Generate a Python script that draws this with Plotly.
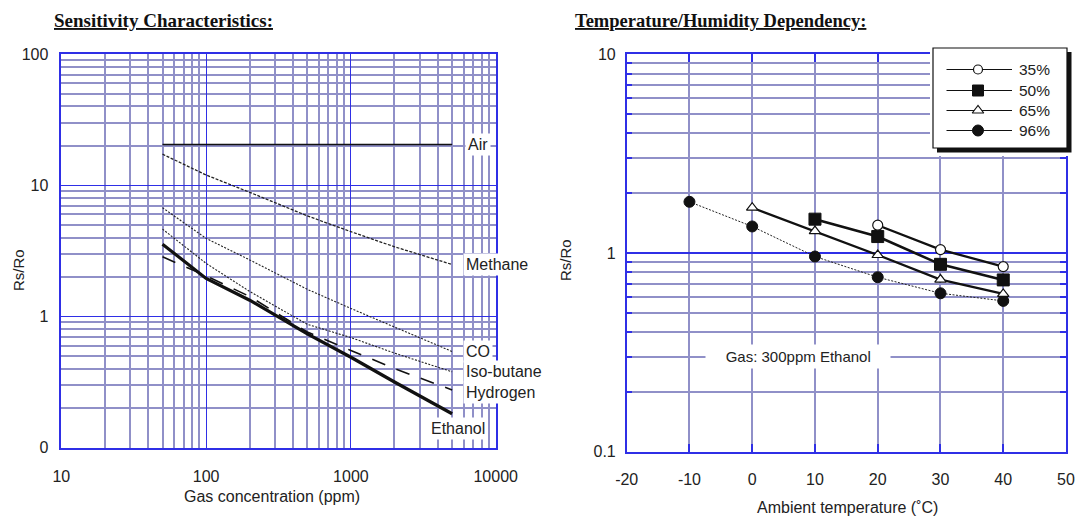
import math
import plotly.graph_objects as go

W, H = 1082, 520

# ---------------- Left chart data: Sensitivity Characteristics ----------------
conc = [50, 100, 200, 500, 1000, 2000, 5000]
air_conc = [50, 5000]
air = [20.5, 20.5]
methane = [17.3, 12.0, 8.85, 5.85, 4.43, 3.40, 2.49]
co = [6.75, 3.94, 2.70, 1.61, 1.15, 0.83, 0.54]
isobutane = [4.64, 2.54, 1.55, 0.87, 0.69, 0.525, 0.378]
hydrogen = [2.85, 2.04, 1.42, 0.76, 0.55, 0.40, 0.275]
ethanol = [3.56, 1.95, 1.33, 0.735, 0.488, 0.316, 0.181]

left_xticks = [10, 100, 1000, 10000]
left_xticktext = ["10", "100", "1000", "10000"]
left_yticks = [0.1, 1, 10, 100]
left_yticktext = ["0", "1", "10", "100"]

# ---------------- Right chart data: Temperature/Humidity Dependency ----------------
temps = [-10, 0, 10, 20, 30, 40]
rh35 = [None, None, None, 1.38, 1.04, 0.854]
rh50 = [None, None, 1.48, 1.21, 0.877, 0.732]
rh65 = [None, 1.69, 1.29, 0.977, 0.735, 0.622]
rh96 = [1.81, 1.36, 0.96, 0.755, 0.627, 0.574]
rh_labels = ["35%", "50%", "65%", "96%"]

right_xticks = [-20, -10, 0, 10, 20, 30, 40, 50]
right_xticktext = ["-20", "-10", "0", "10", "20", "30", "40", "50"]
right_yticks = [0.1, 1, 10]
right_yticktext = ["0.1", "1", "10"]

# ---------------- styling ----------------
BLUE = "#2f2fe6"
LAV = "#9090c8"
INK = "#111111"
SANS = "Liberation Sans, Arial, sans-serif"
SERIF = "Liberation Serif, Times New Roman, serif"
tick_font = dict(family=SANS, size=16, color="#222222")


def px_x(p):
    return p / W


def px_y(p):
    return 1 - p / H


def log_minor(d0, d1):
    return [k * 10 ** d for d in range(d0, d1) for k in range(2, 10)]


fig = go.Figure()

# Left chart traces
left_series = [
    ("Air", air_conc, air, dict(color=INK, width=1.5)),
    ("Methane", conc, methane, dict(color="#222", width=1.3, dash="3px,1.5px")),
    ("CO", conc, co, dict(color="#222", width=1.1, dash="2px,1.5px")),
    ("Iso-butane", conc, isobutane, dict(color="#222", width=1.1, dash="2px,1.5px")),
    ("Hydrogen", conc, hydrogen, dict(color=INK, width=1.6, dash="14px,12px")),
    ("Ethanol", conc, ethanol, dict(color=INK, width=3.2)),
]
for name, xs, ys, ln in left_series:
    fig.add_trace(go.Scatter(x=xs, y=ys, mode="lines", name=name, line=ln,
                             xaxis="x", yaxis="y", showlegend=False))

# Right chart traces
right_series = [
    ("96%", rh96, dict(color="#222", width=1, dash="2px,1.5px"),
     dict(symbol="circle", size=11, color=INK, line=dict(color=INK, width=1))),
    ("65%", rh65, dict(color=INK, width=2.3),
     dict(symbol="triangle-up", size=10, color="white", line=dict(color=INK, width=1.2))),
    ("50%", rh50, dict(color=INK, width=2.6),
     dict(symbol="square", size=12, color=INK, line=dict(color=INK, width=1))),
    ("35%", rh35, dict(color=INK, width=2.3),
     dict(symbol="circle", size=10, color="white", line=dict(color=INK, width=1.2))),
]
for name, ys, ln, mk in right_series:
    fig.add_trace(go.Scatter(x=temps, y=ys, mode="lines+markers", name=name, line=ln,
                             marker=mk, xaxis="x2", yaxis="y2", showlegend=False,
                             connectgaps=False))

# Manual legend (helper axes x3/y3 in pixel-like units)
legend_rows = {"35%": 69.5, "50%": 90.5, "65%": 110.5, "96%": 130.5}
legend_markers = {
    "35%": dict(symbol="circle", size=9, color="white", line=dict(color=INK, width=1.2)),
    "50%": dict(symbol="square", size=11, color=INK, line=dict(color=INK, width=1)),
    "65%": dict(symbol="triangle-up", size=10, color="white", line=dict(color=INK, width=1.2)),
    "96%": dict(symbol="circle", size=11, color=INK, line=dict(color=INK, width=1)),
}
for lab in rh_labels:
    yy = legend_rows[lab]
    fig.add_trace(go.Scatter(x=[946.5, 1012], y=[yy, yy], mode="lines",
                             line=dict(color=INK, width=1), xaxis="x3", yaxis="y3",
                             showlegend=False, hoverinfo="skip"))
    fig.add_trace(go.Scatter(x=[978], y=[yy], mode="markers", marker=legend_markers[lab],
                             xaxis="x3", yaxis="y3", showlegend=False, hoverinfo="skip"))

common_axis = dict(showline=True, linecolor=BLUE, linewidth=1.5, zeroline=False,
                   tickfont=tick_font, showgrid=True, automargin=False)

fig.update_layout(
    template="none",
    width=W, height=H,
    margin=dict(l=0, r=0, t=0, b=0, pad=0),
    paper_bgcolor="white", plot_bgcolor="white",
    showlegend=False,
    xaxis=dict(type="log", domain=[px_x(61.3), px_x(495.7)], range=[1, 4], anchor="y",
               tickmode="array", tickvals=left_xticks, ticktext=left_xticktext, ticks="",
               gridcolor=BLUE, gridwidth=1.3, mirror=True, ticklabelstandoff=14,
               minor=dict(tickvals=log_minor(1, 4), showgrid=True, gridcolor=LAV,
                          gridwidth=1.6, ticks=""),
               **common_axis),
    yaxis=dict(type="log", domain=[px_y(447.5), px_y(54.3)], range=[-1, 2], anchor="x",
               tickmode="array", tickvals=left_yticks, ticktext=left_yticktext, ticks="",
               gridcolor=BLUE, gridwidth=1.3, mirror=True, ticklabelstandoff=8,
               minor=dict(tickvals=log_minor(-1, 2), showgrid=True, gridcolor=LAV,
                          gridwidth=1.6, ticks=""),
               **common_axis),
    xaxis2=dict(domain=[px_x(626.7), px_x(1066)], range=[-20, 50], anchor="y2",
                tickmode="array", tickvals=right_xticks, ticktext=right_xticktext,
                gridcolor=LAV, gridwidth=1.8,
                ticks="inside", ticklen=8, tickcolor=BLUE, tickwidth=1.6,
                mirror="allticks", ticklabelstandoff=12,
                **common_axis),
    yaxis2=dict(type="log", domain=[px_y(451.7), px_y(54.3)], range=[-1, 1], anchor="x2",
                tickmode="array", tickvals=right_yticks, ticktext=right_yticktext,
                gridcolor=BLUE, gridwidth=1.5,
                ticks="inside", ticklen=6, tickcolor=BLUE, tickwidth=1.5,
                mirror="allticks", ticklabelstandoff=6,
                minor=dict(tickvals=log_minor(-1, 1), showgrid=True, gridcolor=LAV,
                           gridwidth=1.6, ticks="inside", ticklen=6, tickcolor=BLUE,
                           tickwidth=1.5),
                **common_axis),
    xaxis3=dict(domain=[px_x(930), px_x(1076)], range=[930, 1076], anchor="y3",
                visible=False, fixedrange=True, automargin=False),
    yaxis3=dict(domain=[px_y(156), px_y(44)], range=[156, 44], anchor="x3",
                visible=False, fixedrange=True, automargin=False),
)

# Legend box with drop shadow (drawn in helper subplot, under the legend samples)
fig.add_shape(type="rect", xref="x3", yref="y3", x0=937, x1=1071.5, y0=52, y1=152.5,
              fillcolor=INK, line=dict(width=0), layer="between")
fig.add_shape(type="rect", xref="x3", yref="y3", x0=933, x1=1067, y0=48, y1=148,
              fillcolor="white", line=dict(color=INK, width=1.2), layer="between")

ann = []
# Titles
ann.append(dict(text="<b><u>Sensitivity Characteristics:</u></b>", xref="paper", yref="paper",
                x=px_x(52), y=px_y(21), xanchor="left", yanchor="middle", showarrow=False,
                font=dict(family=SERIF, size=19, color=INK)))
ann.append(dict(text="<b><u>Temperature/Humidity Dependency:</u></b>", xref="paper", yref="paper",
                x=px_x(573), y=px_y(21), xanchor="left", yanchor="middle", showarrow=False,
                font=dict(family=SERIF, size=18.5, color=INK)))
# Axis titles
axis_font = dict(family=SANS, size=16, color="#222222")
ann.append(dict(text="Gas concentration (ppm)", xref="paper", yref="paper",
                x=px_x(272), y=px_y(496), xanchor="center", yanchor="middle",
                showarrow=False, font=axis_font))
ann.append(dict(text="Rs/Ro", xref="paper", yref="paper", textangle=-90,
                x=px_x(18), y=px_y(270), xanchor="center", yanchor="middle",
                showarrow=False, font=dict(family=SANS, size=15, color="#222222")))
ann.append(dict(text="Ambient temperature (˚C)", xref="paper", yref="paper",
                x=px_x(847), y=px_y(507), xanchor="center", yanchor="middle",
                showarrow=False, font=axis_font))
ann.append(dict(text="Rs/Ro", xref="paper", yref="paper", textangle=-90,
                x=px_x(565), y=px_y(260), xanchor="center", yanchor="middle",
                showarrow=False, font=dict(family=SANS, size=15, color="#222222")))

# Curve labels (left chart), positions in log10 units of the data axes
label_font = dict(family=SANS, size=16, color="#222222")
curve_labels = [
    ("Air", 3.79, air[-1], 0),
    ("Methane", 3.775, methane[-1], 0),
    ("CO", 3.775, co[-1], 0),
    ("Iso-butane", 3.775, isobutane[-1], 0),
    ("Hydrogen", 3.775, hydrogen[-1], -3),
    ("Ethanol", 3.53, ethanol[-1], -15),
]
for text, lx, val, ys in curve_labels:
    ann.append(dict(text=text, xref="x", yref="y", x=lx, y=math.log10(val), yshift=ys,
                    xanchor="left", yanchor="middle", showarrow=False,
                    bgcolor="white", borderpad=2, font=label_font))

# Right chart note
ann.append(dict(text="    Gas: 300ppm Ethanol    ", xref="x2", yref="y2", x=7.3,
                y=math.log10(0.3), xanchor="center", yanchor="middle", showarrow=False,
                bgcolor="white", borderpad=3, font=dict(family=SANS, size=15, color="#222222")))

# RH% box
ann.append(dict(text="RH%:", xref="x3", yref="y3", x=894, y=70.5, width=56, height=42,
                xanchor="center", yanchor="middle", showarrow=False, bgcolor="white",
                bordercolor=INK, borderwidth=1.2, borderpad=0,
                font=dict(family=SANS, size=15, color="#222222")))
# Legend labels
for lab in rh_labels:
    ann.append(dict(text=lab, xref="x3", yref="y3", x=1017, y=legend_rows[lab],
                    xanchor="left", yanchor="middle", showarrow=False,
                    font=dict(family=SANS, size=15.5, color="#222222")))

fig.update_layout(annotations=ann)

fig.write_html("out.html")
